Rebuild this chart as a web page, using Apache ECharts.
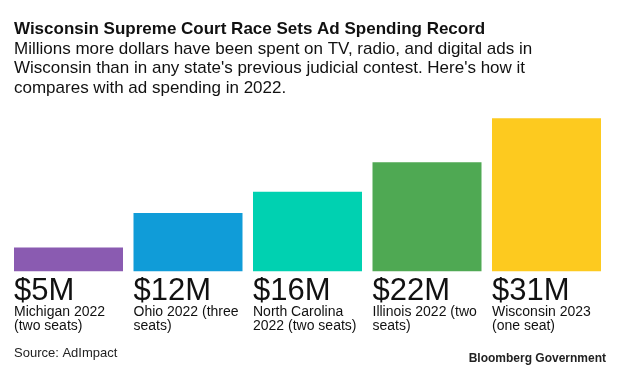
<!DOCTYPE html>
<html>
<head>
<meta charset="utf-8">
<script src="https://cdn.jsdelivr.net/npm/echarts@6/dist/echarts.min.js"></script>
<style>
html,body{margin:0;padding:0;background:#fff;}
#chart{width:620px;height:373px;}
</style>
</head>
<body>
<div id="chart"></div>
<script>
var categories = ['Michigan 2022', 'Ohio 2022', 'North Carolina 2022', 'Illinois 2022', 'Wisconsin 2023'];
var spending = [4.8, 11.8, 16.1, 22.1, 31.0];
var valueLabels = ['$5M', '$12M', '$16M', '$22M', '$31M'];
var nameLine1 = ['Michigan 2022', 'Ohio 2022 (three', 'North Carolina', 'Illinois 2022 (two', 'Wisconsin 2023'];
var nameLine2 = ['(two seats)', 'seats)', '2022 (two seats)', 'seats)', '(one seat)'];
var colors = ['#8a5bb1', '#109cd8', '#00d1b1', '#4fa953', '#fdca1f'];

var FONT = '"Liberation Sans", Arial, Helvetica, sans-serif';
var chart = echarts.init(document.getElementById('chart'), null, {renderer: 'canvas'});

chart.setOption({
  backgroundColor: '#ffffff',
  animation: false,
  title: [
    {
      text: 'Wisconsin Supreme Court Race Sets Ad Spending Record',
      left: 14, top: 19.7, padding: 0,
      textStyle: {fontFamily: FONT, fontSize: 17, fontWeight: 'bold', color: '#111', lineHeight: 20}
    },
    {
      text: 'Millions more dollars have been spent on TV, radio, and digital ads in\nWisconsin than in any state\'s previous judicial contest. Here\'s how it\ncompares with ad spending in 2022.',
      left: 14, top: 38.9, padding: 0,
      textStyle: {fontFamily: FONT, fontSize: 17, fontWeight: 'normal', color: '#111', lineHeight: 19.9}
    },
    {
      text: 'Source: AdImpact',
      left: 14, top: 345.7, padding: 0,
      textStyle: {fontFamily: FONT, fontSize: 13, fontWeight: 'normal', color: '#222', lineHeight: 16}
    },
    {
      text: 'Bloomberg Government',
      right: 14, top: 350.7, padding: 0,
      textStyle: {fontFamily: FONT, fontSize: 12, fontWeight: 'bold', color: '#222', lineHeight: 16}
    }
  ],
  grid: {left: 8.75, right: 13.75, top: 98.6, bottom: 101.7, containLabel: false},
  xAxis: {
    type: 'category',
    data: categories,
    show: false
  },
  yAxis: {
    type: 'value',
    min: 0, max: 35,
    show: false,
    splitLine: {show: false}
  },
  series: [{
    type: 'bar',
    data: spending.map(function (v, i) {
      return {value: v, itemStyle: {color: colors[i]}};
    }),
    barWidth: 109,
    label: {
      show: true,
      position: [0, '100%'],
      offset: [0, 7.5],
      align: 'left',
      verticalAlign: 'top',
      formatter: function (p) {
        var i = p.dataIndex;
        return '{big|' + valueLabels[i] + '}\n{small|' + nameLine1[i] + '}\n{small|' + nameLine2[i] + '}';
      },
      rich: {
        big: {fontFamily: FONT, fontSize: 31, color: '#111', lineHeight: 26},
        small: {fontFamily: FONT, fontSize: 14, color: '#111', lineHeight: 14.4}
      }
    }
  }]
});
</script>
</body>
</html>
